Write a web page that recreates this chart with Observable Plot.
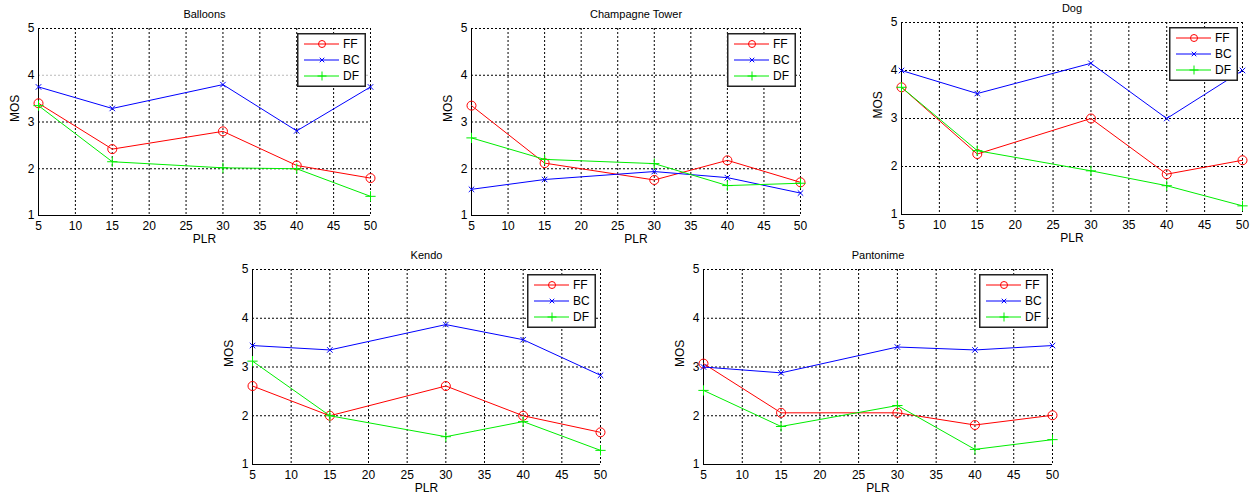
<!DOCTYPE html>
<html><head><meta charset="utf-8">
<script src="https://cdn.jsdelivr.net/npm/d3@7"></script>
<script src="https://cdn.jsdelivr.net/npm/@observablehq/plot@0.6"></script>
<style>
body{margin:0;background:#fff;}
#chart{position:relative;width:1254px;height:499px;overflow:hidden;background:#fff;font-family:"Liberation Sans",Arial,sans-serif;}
#chart > .panel, #chart > svg.legend{position:absolute;}
</style></head><body><div id="chart"></div>
<script>
// ---- data ----
const plr = [5, 15, 30, 40, 50];
const xTicks = [5, 10, 15, 20, 25, 30, 35, 40, 45, 50];
const yTicks = [1, 2, 3, 4, 5];
const videos = ["Balloons", "Champagne Tower", "Dog", "Kendo", "Pantonime"];
const methods = ["FF", "BC", "DF"];
const ffMOS = [
  [3.40, 2.42, 2.80, 2.07, 1.80],
  [3.35, 2.12, 1.76, 2.18, 1.71],
  [3.65, 2.26, 3.00, 1.84, 2.13],
  [2.61, 2.00, 2.61, 2.00, 1.66],
  [3.07, 2.06, 2.06, 1.81, 2.01]
];
const bcMOS = [
  [3.75, 3.29, 3.80, 2.81, 3.75],
  [1.56, 1.77, 1.94, 1.81, 1.48],
  [4.00, 3.52, 4.15, 3.00, 4.00],
  [3.44, 3.35, 3.87, 3.56, 2.83],
  [3.00, 2.88, 3.41, 3.35, 3.44]
];
const dfMOS = [
  [3.35, 2.15, 2.02, 2.00, 1.41],
  [2.66, 2.20, 2.11, 1.64, 1.69],
  [3.65, 2.33, 1.91, 1.60, 1.18],
  [3.12, 2.00, 1.57, 1.88, 1.29],
  [2.52, 1.78, 2.21, 1.31, 1.51]
];

// ---- styles / layout ----
const seriesStyle = {
  FF: {color: "#ff0000", symbol: "circle", r: 4.5, lr: 3.5},
  BC: {color: "#0000ff", symbol: "times", r: 2.6, lr: 2.2},
  DF: {color: "#00ee00", symbol: "plus", r: 3.4, lr: 3}
};
const frames = [
  {l: 38, r: 370, t: 28, b: 215},
  {l: 471, r: 800, t: 28, b: 215},
  {l: 901, r: 1242, t: 22, b: 214},
  {l: 252, r: 600, t: 269, b: 464},
  {l: 703, r: 1052, t: 269, b: 464}
];
const font = '"Liberation Sans", Arial, sans-serif';
const chart = document.getElementById("chart");
const ml = 42, mr = 10, mt = 30, mb = 34;
const symbolOf = {circle: d3.symbolCircle, times: d3.symbolTimes, plus: d3.symbolPlus};

videos.forEach((video, i) => {
  const f = frames[i];
  const series = {FF: ffMOS[i], BC: bcMOS[i], DF: dfMOS[i]};
  const xMin = d3.min(xTicks), yMin = d3.min(yTicks);
  const marks = [
    Plot.gridX(xTicks, {stroke: "#000", strokeOpacity: 1, strokeDasharray: "2,2"}),
    Plot.gridY(yTicks, {stroke: d => (i === 0 && d === 4) ? "#bbb" : "#000", strokeOpacity: 1, strokeDasharray: "2,2"}),
    Plot.ruleX([xMin], {stroke: "#000", strokeWidth: 1}),
    Plot.ruleY([yMin], {stroke: "#000", strokeWidth: 1})
  ];
  methods.forEach(m => {
    const rows = plr.map((p, k) => ({plr: p, mos: series[m][k]}));
    const s = seriesStyle[m];
    marks.push(Plot.line(rows, {x: "plr", y: "mos", stroke: s.color, strokeWidth: 1}));
    marks.push(Plot.dot(rows, {x: "plr", y: "mos", stroke: s.color, symbol: s.symbol, r: s.r, strokeWidth: 1, fill: "none"}));
  });
  marks.push(Plot.text([video], {text: d => d, frameAnchor: "top", lineAnchor: "middle", dy: -14, fontSize: 11}));
  marks.push(Plot.text(["PLR"], {text: d => d, frameAnchor: "bottom", lineAnchor: "middle", dy: 24, fontSize: 12}));
  marks.push(Plot.text(["MOS"], {text: d => d, frameAnchor: "left", dx: -23, rotate: -90, fontSize: 12}));

  const w = (f.r - f.l) + ml + mr;
  const h = (f.b - f.t) + mt + mb;
  const svg = Plot.plot({
    width: w, height: h,
    marginLeft: ml, marginRight: mr, marginTop: mt, marginBottom: mb,
    style: {fontFamily: font, fontSize: "12px", background: "transparent", color: "#000", overflow: "visible"},
    x: {domain: [5, 50], ticks: xTicks, tickSize: 0, tickPadding: 6, tickFormat: d3.format("d"), label: null},
    y: {domain: [1, 5], ticks: yTicks, tickSize: 0, tickPadding: 4, tickFormat: d3.format("d"), label: null},
    marks
  });
  svg.classList.add("panel");
  svg.style.left = (f.l - ml) + "px";
  svg.style.top = (f.t - mt) + "px";
  chart.appendChild(svg);

  // legend box
  const lw = 69, lh = 54;
  const lg = d3.select(chart).append("svg")
    .attr("class", "legend")
    .attr("width", lw).attr("height", lh)
    .style("left", (f.r - 4 - lw) + "px")
    .style("top", (f.t + 5) + "px");
  lg.append("rect").attr("x", 0.75).attr("y", 0.75).attr("width", lw - 1.5).attr("height", lh - 1.5)
    .attr("fill", "#fff").attr("stroke", "#222").attr("stroke-width", 1.5);
  methods.forEach((m, k) => {
    const s = seriesStyle[m];
    const y = 11 + k * 16;
    lg.append("line").attr("x1", 7).attr("x2", 42).attr("y1", y).attr("y2", y)
      .attr("stroke", s.color).attr("stroke-width", 1);
    lg.append("path")
      .attr("transform", `translate(25,${y})`)
      .attr("d", d3.symbol(symbolOf[s.symbol], Math.PI * s.lr * s.lr)())
      .attr("fill", "none").attr("stroke", s.color).attr("stroke-width", 1);
    lg.append("text").attr("x", 46).attr("y", y).attr("dy", "0.36em")
      .attr("font-family", font).attr("font-size", 12).text(m);
  });
});
</script>
</body></html>
